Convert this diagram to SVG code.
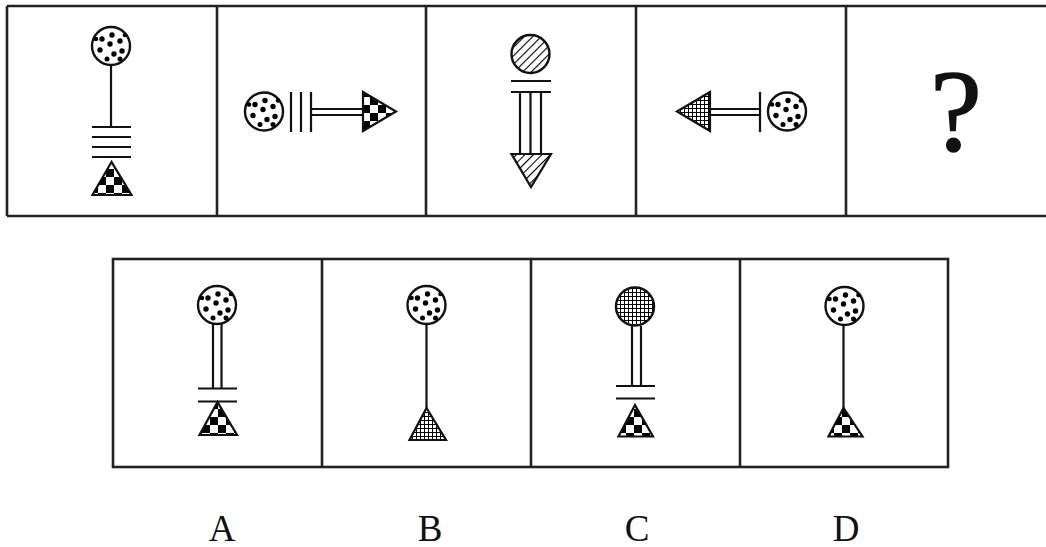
<svg xmlns="http://www.w3.org/2000/svg" xmlns:xlink="http://www.w3.org/1999/xlink" width="1046" height="547" viewBox="0 0 1046 547">
<style>
.frame{fill:none;stroke:#222;stroke-width:2.6}
.ln{stroke:#111;stroke-width:2.2;fill:none}
.lbl{font-family:"Liberation Serif","Times New Roman",serif;font-size:37px;fill:#111;text-anchor:middle}
.q{font-family:"Liberation Serif","Times New Roman",serif;font-size:116px;fill:#111;stroke:#111;stroke-width:1.5;text-anchor:middle}
.sh{stroke:#111;stroke-width:2.2}
</style>
<defs>
<pattern id="checker" width="16" height="16" patternUnits="userSpaceOnUse" x="2" y="1">
<rect width="16" height="16" fill="#fff"/>
<rect x="0" y="0" width="8" height="8" fill="#000"/>
<rect x="8" y="8" width="8" height="8" fill="#000"/>
</pattern>
<pattern id="hatch" width="6" height="6" patternUnits="userSpaceOnUse" patternTransform="rotate(45)">
<rect width="6" height="6" fill="#fff"/>
<line x1="0" y1="0" x2="0" y2="6" stroke="#000" stroke-width="2.2"/>
</pattern>
<pattern id="grid" width="4" height="4" patternUnits="userSpaceOnUse">
<rect width="4" height="4" fill="#fff"/>
<line x1="0" y1="0" x2="4" y2="0" stroke="#000" stroke-width="2"/>
<line x1="0" y1="0" x2="0" y2="4" stroke="#000" stroke-width="2"/>
</pattern>
<g id="dotball">
<circle r="19" fill="#fff" stroke="#111" stroke-width="2.4"/>
<g fill="#000">
<circle cx="1" cy="-11" r="2.7"/>
<circle cx="-9" cy="-7" r="2.7"/>
<circle cx="9" cy="-5" r="2.7"/>
<circle cx="-1" cy="-2" r="2.7"/>
<circle cx="11" cy="5" r="2.7"/>
<circle cx="-11" cy="4" r="2.7"/>
<circle cx="3" cy="8" r="2.7"/>
<circle cx="-4" cy="13" r="2.5"/>
<circle cx="9" cy="13" r="2.5"/>
<circle cx="-15" cy="-7" r="2.3"/>
<circle cx="14" cy="-11" r="2.3"/>
</g>
</g>
</defs>

<g id="frames">
<path class="frame" d="M7,6 H1046 M7,216 H1046 M7,6 V216 M217,6 V216 M426,6 V216 M636,6 V216 M846,6 V216"/>
<rect class="frame" x="113" y="259" width="835" height="208"/>
<path class="frame" d="M322,259 V467 M531,259 V467 M740,259 V467"/>
</g>

<g id="panel1">
<use href="#dotball" x="111" y="46"/>
<line class="ln" x1="111" y1="65" x2="111" y2="127"/>
<path class="ln" d="M92,127 H131 M92,137 H131 M92,147 H131 M92,157 H131"/>
<polygon class="sh" points="111.5,162 92.5,195 131.5,195" fill="url(#checker)"/>
</g>

<g id="panel2">
<use href="#dotball" x="264" y="111.5"/>
<path class="ln" d="M291,92 V132 M301,92 V132 M311,92 V132"/>
<path class="ln" d="M311,109 H363 M311,115 H363"/>
<polygon class="sh" points="363,92 396,111.5 363,131" fill="url(#checker)"/>
</g>

<g id="panel3">
<circle cx="530.5" cy="54" r="19" fill="url(#hatch)" stroke="#111" stroke-width="2.4"/>
<path class="ln" d="M511,81 H551 M511,92 H551"/>
<path class="ln" d="M520,92 V154 M530.5,92 V154 M541,92 V154"/>
<polygon class="sh" points="511.5,154 551,154 531,187" fill="url(#hatch)"/>
</g>

<g id="panel4">
<polygon class="sh" points="677,111.5 710,92 710,131" fill="url(#grid)"/>
<path class="ln" d="M710,109 H760 M710,115 H760"/>
<line class="ln" x1="760" y1="92" x2="760" y2="132"/>
<use href="#dotball" x="787" y="111.5"/>
</g>

<g id="panel5">
<text class="q" x="956" y="150">?</text>
</g>

<g id="optionA">
<use href="#dotball" x="217" y="305"/>
<path class="ln" d="M213,324 V388 M221.5,324 V388"/>
<path class="ln" d="M198,388.5 H237 M198,401.5 H237"/>
<polygon class="sh" points="217.5,402 199.5,435 237,435" fill="url(#checker)"/>
<text class="lbl" x="222" y="541">A</text>
</g>

<g id="optionB">
<use href="#dotball" x="426.5" y="305"/>
<line class="ln" x1="426.5" y1="324" x2="426.5" y2="408"/>
<polygon class="sh" points="426.5,408 409.5,440 446,440" fill="url(#grid)"/>
<text class="lbl" x="430" y="541">B</text>
</g>

<g id="optionC">
<circle cx="635" cy="306.5" r="19" fill="url(#grid)" stroke="#111" stroke-width="2.4"/>
<path class="ln" d="M632,326 V386 M641,326 V386"/>
<path class="ln" d="M616,386 H655 M616,398.5 H655"/>
<polygon class="sh" points="635,405 618.5,436.5 653,436.5" fill="url(#checker)"/>
<text class="lbl" x="637" y="541">C</text>
</g>

<g id="optionD">
<use href="#dotball" x="844.5" y="306"/>
<line class="ln" x1="843.5" y1="325" x2="843.5" y2="408"/>
<polygon class="sh" points="843.5,408 828.5,436.5 862.5,436.5" fill="url(#checker)"/>
<text class="lbl" x="846" y="541">D</text>
</g>
</svg>
